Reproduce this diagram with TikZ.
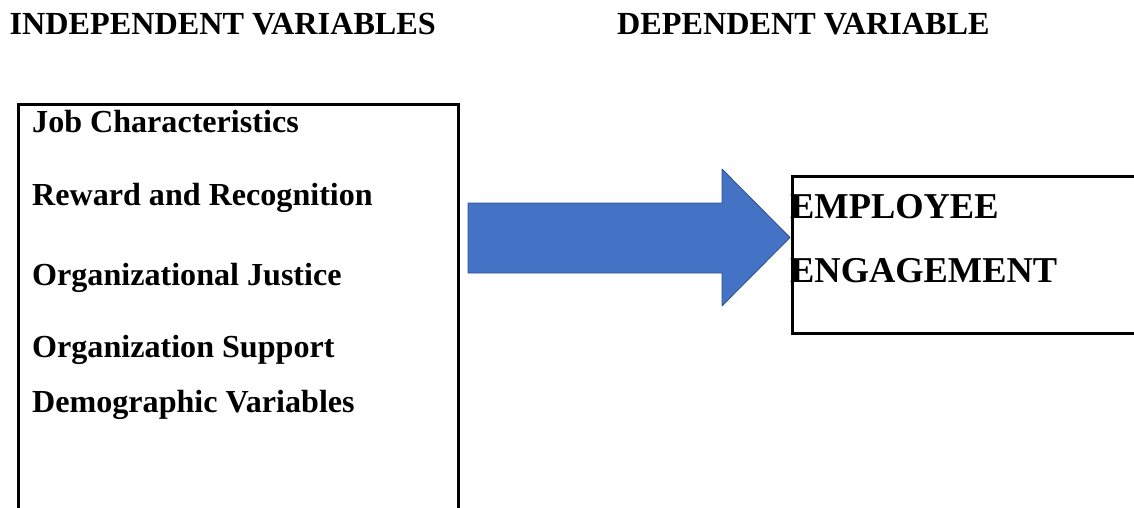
\documentclass[tikz,border=0pt]{standalone}
\usepackage{fontspec}
\setmainfont{Liberation Serif}
\definecolor{arrowfill}{HTML}{4472C4}
\definecolor{arrowline}{HTML}{2F528F}
\begin{document}
\begin{tikzpicture}[x=1pt, y=-1pt,
    heading/.style={anchor=base west, inner sep=0pt, font=\fontsize{32.2}{38}\bfseries},
    factor/.style={anchor=base west, inner sep=0pt, font=\fontsize{32.1}{38}\bfseries},
    outcome/.style={anchor=base west, inner sep=0pt, font=\fontsize{36.4}{44}\bfseries},
    frame/.style={draw, line width=3pt, inner sep=0pt, anchor=north west}]
    \clip (0,0) rectangle (1134,508);

    % Headings
    \node[heading] (indep) at (9.5,35) {INDEPENDENT VARIABLES};
    \node[heading] (dep) at (617,35) {DEPENDENT VARIABLE};

    % Independent variables box (runs off the bottom)
    \node[frame, minimum width=440, minimum height=460] (ivbox) at (17,103) {};
    \node[factor] (job) at (32,132) {Job Characteristics};
    \node[factor] (reward) at (32,205) {Reward and Recognition};
    \node[factor] (justice) at (32,285) {Organizational Justice};
    \node[factor] (support) at (32,357) {Organization Support};
    \node[factor] (demo) at (32,412) {Demographic Variables};

    % Dependent variable box (runs off the right side)
    \node[frame, minimum width=400, minimum height=157] (dvbox) at (791,175) {};
    \node[outcome] (employee) at (790,218) {EMPLOYEE};
    \node[outcome] (engage) at (790,282) {ENGAGEMENT};

    % Block arrow
    \filldraw[fill=arrowfill, draw=arrowline, line width=0.8pt, line join=round]
      (468,203) -- (722,203) -- (722,169) -- (790,237.5)
      -- (722,306) -- (722,273) -- (468,273) -- cycle;
  \end{tikzpicture}
\end{document}
